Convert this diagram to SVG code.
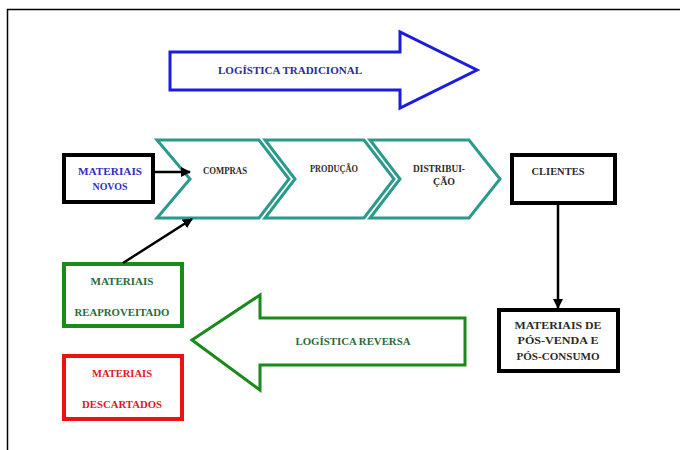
<svg xmlns="http://www.w3.org/2000/svg" width="680" height="450" viewBox="0 0 680 450">
<style>
text{font-family:"Liberation Serif","Times New Roman",serif;font-weight:bold;font-size:11px;text-anchor:middle;}
.chev{fill:#fff;stroke:#2a9a8c;stroke-width:3;stroke-linejoin:miter;}
.box{fill:#fff;stroke-width:4;}
.dark{fill:#2b2b2b;}
.conn{stroke:#000;stroke-width:2.5;fill:none;}
</style>
<defs>
<marker id="ah" viewBox="0 0 10 10" refX="9" refY="5" markerWidth="4" markerHeight="4" orient="auto" markerUnits="strokeWidth">
<path d="M0,0 L10,5 L0,10 z" fill="#000"/>
</marker>
</defs>
<rect x="0" y="0" width="680" height="450" fill="#fff"/>
<path d="M7.5,450 V9.5 H680" fill="none" stroke="#000" stroke-width="1.5"/>

<g id="logistica-tradicional">
<polygon points="170,52 400,52 400,32 477,70 400,108 400,90 170,90" fill="#fff" stroke="#1c1ce0" stroke-width="3"/>
<text x="290" y="74" fill="#2a2a9a" textLength="144" lengthAdjust="spacingAndGlyphs">LOGÍSTICA TRADICIONAL</text>
</g>

<g id="compras">
<polygon class="chev" points="157,140 259,140 289,179 259,218 157,218 190,179"/>
<text class="dark" x="225" y="174" textLength="44" lengthAdjust="spacingAndGlyphs">COMPRAS</text>
</g>
<g id="producao">
<polygon class="chev" points="265,140 364,140 394,179 364,218 265,218 295,179"/>
<text class="dark" x="334" y="172" textLength="48" lengthAdjust="spacingAndGlyphs">PRODUÇÃO</text>
</g>
<g id="distribuicao">
<polygon class="chev" points="370,140 469,140 500,179 469,218 370,218 400,179"/>
<text class="dark" x="439" y="172" textLength="52" lengthAdjust="spacingAndGlyphs">DISTRIBUI-</text>
<text class="dark" x="444" y="185" textLength="22" lengthAdjust="spacingAndGlyphs">ÇÃO</text>
</g>

<g id="materiais-novos">
<rect class="box" x="64" y="155" width="89" height="47" stroke="#000"/>
<text x="110" y="175" fill="#2e2ec4" textLength="64" lengthAdjust="spacingAndGlyphs">MATERIAIS</text>
<text x="110" y="190" fill="#2e2ec4" textLength="35" lengthAdjust="spacingAndGlyphs">NOVOS</text>
</g>

<g id="clientes">
<rect class="box" x="512" y="155" width="103" height="48" stroke="#000"/>
<text class="dark" x="558" y="175" textLength="53" lengthAdjust="spacingAndGlyphs">CLIENTES</text>
</g>

<g id="materiais-pos">
<rect class="box" x="499" y="310" width="119" height="61" stroke="#000"/>
<text class="dark" x="558" y="329" textLength="87" lengthAdjust="spacingAndGlyphs">MATERIAIS DE</text>
<text class="dark" x="558" y="344" textLength="81" lengthAdjust="spacingAndGlyphs">PÓS-VENDA E</text>
<text class="dark" x="558" y="360" textLength="83" lengthAdjust="spacingAndGlyphs">PÓS-CONSUMO</text>
</g>

<g id="materiais-reaproveitado">
<rect class="box" x="64" y="264" width="118" height="62" stroke="#1a8a1a"/>
<text x="122" y="285" fill="#2a6a3a" textLength="63" lengthAdjust="spacingAndGlyphs">MATERIAIS</text>
<text x="122" y="316" fill="#2a6a3a" textLength="95" lengthAdjust="spacingAndGlyphs">REAPROVEITADO</text>
</g>

<g id="materiais-descartados">
<rect class="box" x="64" y="356" width="118" height="63" stroke="#ee1111"/>
<text x="122" y="377" fill="#dd1a1a" textLength="60" lengthAdjust="spacingAndGlyphs">MATERIAIS</text>
<text x="122" y="408" fill="#dd1a1a" textLength="80" lengthAdjust="spacingAndGlyphs">DESCARTADOS</text>
</g>

<g id="logistica-reversa">
<polygon points="192,340 260,295 260,318 465,318 465,365 260,365 260,390" fill="#fff" stroke="#1a8a1a" stroke-width="3"/>
<text x="353" y="345" fill="#2a6a3a" textLength="115" lengthAdjust="spacingAndGlyphs">LOGÍSTICA REVERSA</text>
</g>

<g id="connectors">
<line class="conn" x1="155" y1="172" x2="190" y2="172" marker-end="url(#ah)"/>
<line class="conn" x1="123" y1="263" x2="192" y2="219" marker-end="url(#ah)"/>
<line class="conn" x1="558" y1="203" x2="558" y2="308" marker-end="url(#ah)"/>
</g>
</svg>
